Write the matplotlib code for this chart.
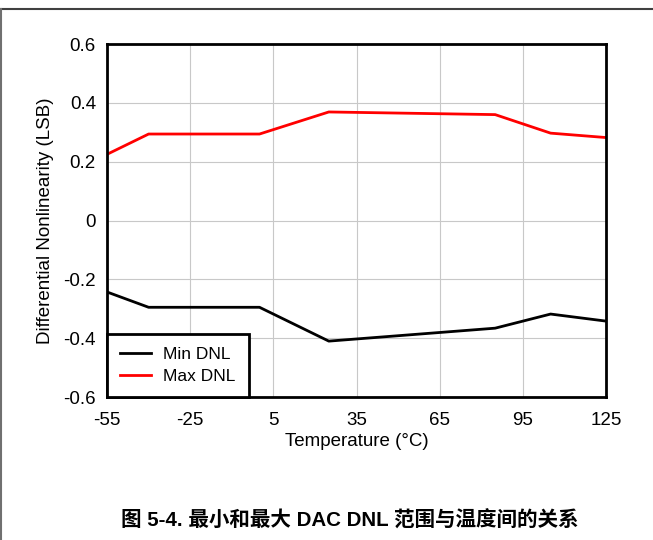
import matplotlib
matplotlib.use('Agg')
import matplotlib.pyplot as plt
from matplotlib.lines import Line2D

plt.rcParams['font.family'] = ['Liberation Sans', 'Noto Sans CJK SC', 'DejaVu Sans']
plt.rcParams['axes.unicode_minus'] = False

# 数据：温度与 DNL
temps = [-55, -40, 0, 25, 85, 105, 125]
min_dnl = [-0.243, -0.295, -0.295, -0.41, -0.366, -0.318, -0.342]
max_dnl = [0.225, 0.294, 0.294, 0.369, 0.36, 0.297, 0.282]

x_ticks = [-55, -25, 5, 35, 65, 95, 125]
y_ticks = [-0.6, -0.4, -0.2, 0, 0.2, 0.4, 0.6]
y_labels = ['-0.6', '-0.4', '-0.2', '0', '0.2', '0.4', '0.6']
caption = '图 5-4. 最小和最大 DAC DNL 范围与温度间的关系'

fig = plt.figure(figsize=(6.53, 5.40), dpi=100)
ax = fig.add_axes([0.1639, 0.2648, 0.7642, 0.6537])

ax.plot(temps, min_dnl, color='black', linewidth=2, label='Min DNL')
ax.plot(temps, max_dnl, color='red', linewidth=2, label='Max DNL')

ax.set_xlim(-55, 125)
ax.set_ylim(-0.6, 0.6)
ax.set_xticks(x_ticks)
ax.set_yticks(y_ticks)
ax.set_yticklabels(y_labels)
ax.tick_params(axis='x', length=0, labelsize=13.5, pad=11, colors='black')
ax.tick_params(axis='y', length=0, labelsize=13.5, pad=8, colors='black')
ax.grid(color='#c8c8c8', linewidth=0.8)
for s in ax.spines.values():
    s.set_linewidth(2)
ax.set_xlabel('Temperature (°C)', fontsize=13.5, labelpad=3)
ax.set_ylabel('Differential Nonlinearity (LSB)', fontsize=13.5, labelpad=7)

leg = ax.legend(loc='lower left', borderaxespad=0, fancybox=False,
                edgecolor='black', fontsize=12.5, handlelength=1.8,
                borderpad=0.75, labelspacing=0.4, handletextpad=0.7, framealpha=1)
leg.get_frame().set_linewidth(2)

# 外框
fig.add_artist(Line2D([0, 1], [1 - 8.5 / 540] * 2, color='#404040', linewidth=1.5,
                      transform=fig.transFigure))
fig.add_artist(Line2D([1 / 653] * 2, [0, 1 - 8.5 / 540], color='#707070', linewidth=1.5,
                      transform=fig.transFigure))

fig.text(350 / 653, 1 - 521 / 540, caption, ha='center', va='center',
         fontsize=14.8, fontweight='bold')

fig.savefig('out.png', dpi=100)
